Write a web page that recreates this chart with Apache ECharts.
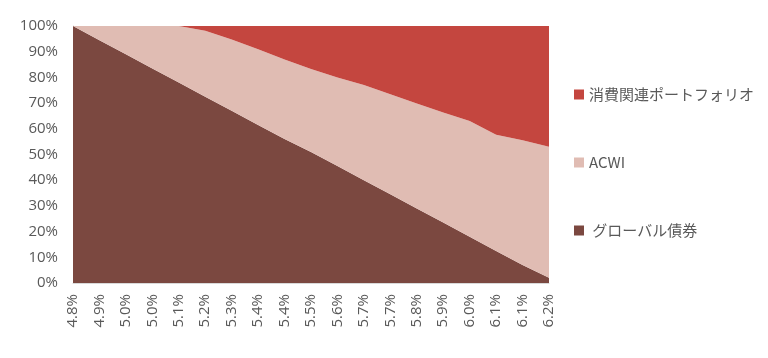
<!DOCTYPE html>
<html><head><meta charset="utf-8">
<script src="https://cdn.jsdelivr.net/npm/echarts@6/dist/echarts.min.js"></script>
<style>html,body{margin:0;padding:0;background:#fff}#c{width:768px;height:358px}</style>
</head><body><div id="c"></div>
<script>
const categories = ['4.8%','4.9%','5.0%','5.0%','5.1%','5.2%','5.3%','5.4%','5.4%','5.5%','5.6%','5.7%','5.7%','5.8%','5.9%','6.0%','6.1%','6.1%','6.2%'];
const bonds    = [100, 94.5, 89, 83.5, 78, 72.5, 67, 61.5, 56, 51, 45.5, 40, 34.5, 29, 23.5, 18, 12.5, 7, 2];
const acwi     = [0, 5.5, 11, 16.5, 22, 25.7, 27.7, 29.5, 31, 32.3, 34.5, 37, 38.9, 40.8, 42.8, 45, 45.2, 48.5, 51];
const consumer = [0, 0, 0, 0, 0, 1.8, 5.3, 9, 13, 16.7, 20, 23, 26.6, 30.2, 33.7, 37, 42.3, 44.5, 47];
const yTicks = [0,10,20,30,40,50,60,70,80,90,100];
const names = ['消費関連ポートフォリオ','ACWI','グローバル債券'];
const colors = {'消費関連ポートフォリオ':'#C4463F','ACWI':'#E0BCB3','グローバル債券':'#7B4840'};

const font = '"Noto Sans CJK JP", "Noto Sans", sans-serif';
const numFont = '"Open Sans", "Noto Sans", sans-serif';
const chart = echarts.init(document.getElementById('c'));
function area(name, data){
  return {name, type:'line', stack:'total', data, symbol:'none', showSymbol:false,
    lineStyle:{width:0}, itemStyle:{color:colors[name]},
    areaStyle:{color:colors[name], opacity:1}, emphasis:{disabled:true}};
}
chart.setOption({
  animation:false,
  textStyle:{fontFamily:font},
  grid:{left:73, right:219, top:26, bottom:75, containLabel:false},
  legend:{
    orient:'vertical', left:569, top:82, itemGap:53, itemWidth:10, itemHeight:10,
    icon:'rect', data:names,
    formatter: n => n === 'グローバル債券' ? ' ' + n : n,
    textStyle:{fontSize:15, color:'#595959', fontFamily:font}
  },
  xAxis:{type:'category', data:categories, boundaryGap:false,
    axisLine:{show:true, lineStyle:{color:'#d9d9d9'}}, axisTick:{show:false},
    axisLabel:{rotate:90, fontSize:15, color:'#595959', margin:11, interval:0, fontFamily:numFont}},
  yAxis:{type:'value', min:0, max:100, interval:10,
    axisLine:{show:true, lineStyle:{color:'#d9d9d9'}}, splitLine:{show:false}, axisTick:{show:false},
    axisLabel:{fontSize:15, color:'#595959', margin:15, fontFamily:numFont, formatter:v=>v+'%'}},
  series:[area('グローバル債券', bonds), area('ACWI', acwi), area('消費関連ポートフォリオ', consumer)]
});
</script></body></html>
